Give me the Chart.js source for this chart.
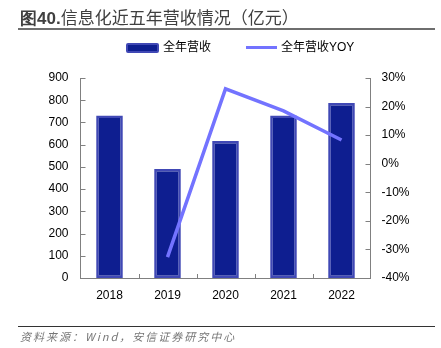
<!DOCTYPE html>
<html lang="zh">
<head>
  <meta charset="UTF-8">
  <title>信息化近五年营收情况</title>
  <script src="https://cdn.jsdelivr.net/npm/chart.js"></script>
  <style>
    body { margin: 0; background: #fff; }
    .box { position: relative; width: 441px; height: 348px; font-family: "Liberation Sans", Arial, "Noto Sans CJK SC", sans-serif; }
    .titulo { position: absolute; left: 20px; top: 6px; font-size: 17px; color: #404040; font-family: "Noto Sans CJK SC", sans-serif; white-space: nowrap; line-height: 22px; }
    .titulo b { font-family: "Liberation Sans", Arial, sans-serif; }
    .linha1 { position: absolute; left: 18px; width: 417px; top: 28px; height: 2px; background: #6e6e6e; }
    .linha2 { position: absolute; left: 18px; width: 417px; top: 326px; height: 1px; background: #333; }
    .fonte { position: absolute; left: 20px; top: 328px; font-size: 11px; color: #777; font-style: italic; letter-spacing: 2px; font-family: "Noto Sans CJK SC", sans-serif; white-space: nowrap; }
    .legenda { position: absolute; top: 39px; font-size: 12px; color: #000; white-space: nowrap; line-height: 16px; }
    .sw { display: inline-block; vertical-align: middle; margin-right: 4px; }
    canvas { position: absolute; left: 0; top: 0; }
  </style>
</head>
<body>
  <div class="box">
    <canvas id="grafico" width="441" height="348"></canvas>
    <div class="titulo"><b>图40.</b>信息化近五年营收情况（亿元）</div>
    <div class="linha1"></div>
    <div class="legenda" style="left:126px"><span class="sw" style="width:29px;height:6px;background:#0e1e90;border:2px solid #4048b5;border-radius:2px"></span>全年营收</div>
    <div class="legenda" style="left:246px"><span class="sw" style="width:31px;height:3px;background:#7373ff"></span>全年营收YOY</div>
    <div class="linha2"></div>
    <div class="fonte">资料来源：Wind，安信证券研究中心</div>
  </div>
<script>
  // dados
  const anos = ["2018", "2019", "2020", "2021", "2022"]
  const receita = [731, 491, 617, 731, 787]
  const yoy = [null, -32.7, 26.2, 18.5, 8.3]
  const ticksReceita = [0, 900, 100]
  const ticksYoy = [-40, 30, 10]

  // ticks pequenos para dentro
  const marcas = {
    id: 'marcas',
    afterDraw(chart) {
      const ctx = chart.ctx
      const area = chart.chartArea
      ctx.save()
      ctx.strokeStyle = '#808080'
      ctx.lineWidth = 1
      const y = chart.scales.y
      y.ticks.forEach(function (t) {
        const p = Math.round(y.getPixelForValue(t.value)) + 0.5
        ctx.beginPath(); ctx.moveTo(area.left, p); ctx.lineTo(area.left + 5, p); ctx.stroke()
      })
      const y1 = chart.scales.y1
      y1.ticks.forEach(function (t) {
        const p = Math.round(y1.getPixelForValue(t.value)) + 0.5
        ctx.beginPath(); ctx.moveTo(area.right, p); ctx.lineTo(area.right - 5, p); ctx.stroke()
      })
      const x = chart.scales.x
      for (let i = 1; i < anos.length; i++) {
        const p = Math.round((x.getPixelForValue(i - 1) + x.getPixelForValue(i)) / 2) + 0.5
        ctx.beginPath(); ctx.moveTo(p, area.bottom); ctx.lineTo(p, area.bottom - 4); ctx.stroke()
      }
      ctx.restore()
    }
  }

  Chart.defaults.font.family = '"Liberation Sans", Arial, sans-serif'
  Chart.defaults.font.size = 12
  Chart.defaults.color = '#000'

  new Chart(document.getElementById('grafico'), {
    data: {
      labels: anos,
      datasets: [
        {
          type: 'line',
          label: '全年营收YOY',
          data: yoy,
          yAxisID: 'y1',
          borderColor: '#7373ff',
          borderWidth: 3.5,
          pointRadius: 0,
          tension: 0,
          order: 0
        },
        {
          type: 'bar',
          label: '全年营收',
          data: receita,
          yAxisID: 'y',
          backgroundColor: '#0e1e90',
          borderColor: '#4048b5',
          borderWidth: 2.5,
          borderSkipped: false,
          categoryPercentage: 1,
          barPercentage: 0.46,
          order: 1
        }
      ]
    },
    options: {
      responsive: false,
      animation: false,
      layout: { padding: { top: 78, bottom: 0, left: 0, right: 0 } },
      plugins: { legend: { display: false }, tooltip: { enabled: false } },
      scales: {
        x: {
          grid: { display: false, drawTicks: false },
          border: { color: '#808080' },
          ticks: { padding: 10 },
          afterFit: function (s) { s.height = 70 }
        },
        y: {
          position: 'left',
          min: ticksReceita[0], max: ticksReceita[1],
          ticks: { stepSize: ticksReceita[2], padding: 12 },
          grid: { display: false, drawTicks: false },
          border: { color: '#808080' },
          afterFit: function (s) { s.width = 80.5 }
        },
        y1: {
          position: 'right',
          min: ticksYoy[0], max: ticksYoy[1],
          ticks: { stepSize: ticksYoy[2], padding: 11, callback: function (v) { return v + '%' } },
          grid: { display: false, drawTicks: false },
          border: { color: '#808080' },
          afterFit: function (s) { s.width = 70.5 }
        }
      }
    },
    plugins: [marcas]
  })
</script>
</body>
</html>
